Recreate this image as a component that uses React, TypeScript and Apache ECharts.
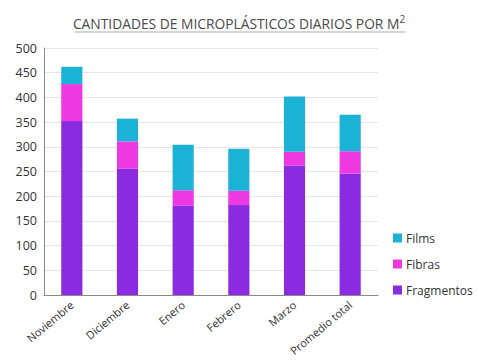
import React, { useEffect, useRef } from "react";
import * as echarts from "echarts";

const categories = ["Noviembre", "Diciembre", "Enero", "Febrero", "Marzo", "Promedio total"];
const fragmentos = [352, 256, 181, 182, 262, 246];
const fibras = [75, 55, 31, 29, 28, 45];
const films = [35, 46, 92, 85, 112, 74];
const yTicks = [0, 50, 100, 150, 200, 250, 300, 350, 400, 450, 500];

export default function App() {
  const ref = useRef<HTMLDivElement>(null);
  useEffect(() => {
    const chart = echarts.init(ref.current!, undefined, { renderer: "svg" });
    const font = "'Open Sans', 'Noto Sans', sans-serif";
    chart.setOption({
      animation: false,
      textStyle: { fontFamily: font },
      title: {
        text: "CANTIDADES DE MICROPLÁSTICOS DIARIOS POR M{sup|2}",
        left: "center",
        top: 9,
        textStyle: {
          fontFamily: font,
          fontSize: 13.8,
          fontWeight: "normal",
          color: "#4a4a4a",
          rich: { sup: { fontSize: 10, verticalAlign: "top", padding: [0, 0, 8, 0], color: "#4a4a4a", fontFamily: font } },
        },
      },
      graphic: [
        { type: "line", shape: { x1: 75, y1: 32, x2: 405, y2: 32 }, style: { stroke: "#aaaaaa", lineWidth: 1 } },
      ],
      legend: {
        orient: "vertical",
        left: 388,
        top: 227,
        itemWidth: 9,
        itemHeight: 9,
        itemGap: 14,
        icon: "rect",
        data: ["Films", "Fibras", "Fragmentos"],
        textStyle: { fontFamily: font, fontSize: 12, color: "#333", padding: [0, 0, 0, -1] },
      },
      grid: { left: 44, right: 100, top: 48, bottom: 67, containLabel: false },
      xAxis: {
        type: "category",
        data: categories,
        axisLine: { show: true, lineStyle: { color: "#8a8a8a" } },
        axisTick: { show: false },
        axisLabel: { rotate: 40, fontSize: 11, color: "#333", margin: 8, interval: 0, fontFamily: font },
      },
      yAxis: {
        type: "value",
        min: 0,
        max: 500,
        interval: 50,
        axisLine: { show: true, lineStyle: { color: "#8a8a8a" } },
        axisTick: { show: false },
        axisLabel: { fontSize: 12.5, color: "#333", margin: 7, fontFamily: font, formatter: (v: number) => (yTicks.includes(v) ? String(v) : "") },
        splitLine: { show: true, lineStyle: { color: "#e6e6e6" } },
      },
      series: [
        { name: "Fragmentos", type: "bar", stack: "t", data: fragmentos, barWidth: "38%", itemStyle: { color: "#8a2be2" } },
        { name: "Fibras", type: "bar", stack: "t", data: fibras, barWidth: "38%", itemStyle: { color: "#ee38e2" } },
        { name: "Films", type: "bar", stack: "t", data: films, barWidth: "38%", itemStyle: { color: "#1cb2d6" } },
      ],
    });
    return () => chart.dispose();
  }, []);
  return <div ref={ref} style={{ width: 478, height: 362, position: "absolute", left: 0, top: 0, background: "#fff" }} />;
}
